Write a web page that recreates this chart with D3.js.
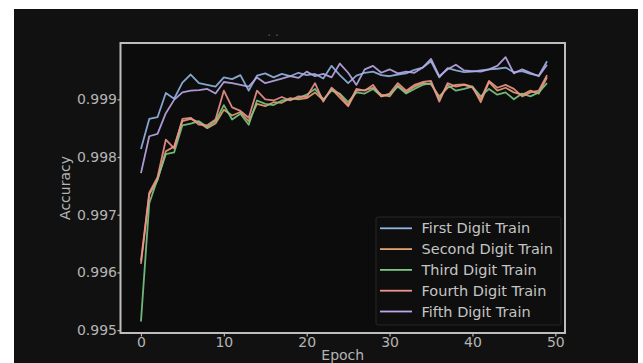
<!DOCTYPE html>
<html>
<head>
<meta charset="utf-8">
<script src="https://cdn.jsdelivr.net/npm/d3@7/dist/d3.min.js"></script>
<style>
  html, body { margin: 0; padding: 0; background: #ffffff; }
  svg { display: block; }
  text { font-family: "DejaVu Sans", sans-serif; }
</style>
</head>
<body>
<svg id="chart" width="643" height="363"></svg>
<script>
const epochs = d3.range(0, 50);
const seriesNames = ["First Digit Train", "Second Digit Train", "Third Digit Train", "Fourth Digit Train", "Fifth Digit Train"];
const seriesColors = ["#92b6e2", "#e6a26e", "#7cc884", "#ef948e", "#bba8e8"];

const firstDigit = [0.99814, 0.99866, 0.99869, 0.99911, 0.99901, 0.99929, 0.99943, 0.99928, 0.99925, 0.99922,
  0.99938, 0.99935, 0.99942, 0.99915, 0.99941, 0.99945, 0.99938, 0.99944, 0.99940, 0.99946,
  0.99942, 0.99944, 0.99936, 0.99958, 0.99942, 0.99928, 0.99941, 0.99946, 0.99948, 0.99942,
  0.99940, 0.99943, 0.99945, 0.99951, 0.99955, 0.99966, 0.99938, 0.99954, 0.99950, 0.99947,
  0.99948, 0.99950, 0.99952, 0.99953, 0.99955, 0.99947, 0.99949, 0.99944, 0.99941, 0.99966];
const secondDigit = [0.99615, 0.99735, 0.99760, 0.99810, 0.99818, 0.99862, 0.99866, 0.99860, 0.99850, 0.99858,
  0.99882, 0.99872, 0.99878, 0.99862, 0.99892, 0.99888, 0.99895, 0.99894, 0.99902, 0.99900,
  0.99902, 0.99912, 0.99898, 0.99918, 0.99903, 0.99888, 0.99915, 0.99916, 0.99920, 0.99908,
  0.99905, 0.99924, 0.99912, 0.99922, 0.99928, 0.99926, 0.99905, 0.99920, 0.99925, 0.99926,
  0.99922, 0.99895, 0.99930, 0.99915, 0.99920, 0.99912, 0.99908, 0.99915, 0.99910, 0.99938];
const thirdDigit = [0.99515, 0.99720, 0.99762, 0.99805, 0.99808, 0.99855, 0.99858, 0.99862, 0.99852, 0.99862,
  0.99890, 0.99865, 0.99875, 0.99856, 0.99898, 0.99892, 0.99890, 0.99898, 0.99900, 0.99902,
  0.99908, 0.99918, 0.99900, 0.99915, 0.99910, 0.99895, 0.99912, 0.99910, 0.99918, 0.99905,
  0.99908, 0.99922, 0.99910, 0.99918, 0.99925, 0.99928, 0.99900, 0.99925, 0.99915, 0.99918,
  0.99922, 0.99905, 0.99918, 0.99908, 0.99912, 0.99900, 0.99910, 0.99905, 0.99912, 0.99928];
const fourthDigit = [0.99620, 0.99738, 0.99765, 0.99830, 0.99815, 0.99866, 0.99868, 0.99856, 0.99855, 0.99865,
  0.99915, 0.99886, 0.99880, 0.99868, 0.99915, 0.99900, 0.99898, 0.99904, 0.99898, 0.99905,
  0.99904, 0.99928, 0.99896, 0.99920, 0.99908, 0.99890, 0.99918, 0.99915, 0.99925, 0.99905,
  0.99910, 0.99928, 0.99915, 0.99925, 0.99930, 0.99932, 0.99896, 0.99928, 0.99922, 0.99925,
  0.99920, 0.99900, 0.99932, 0.99920, 0.99925, 0.99918, 0.99905, 0.99912, 0.99915, 0.99942];
const fifthDigit = [0.99772, 0.99836, 0.99840, 0.99876, 0.99899, 0.99912, 0.99915, 0.99916, 0.99918, 0.99910,
  0.99930, 0.99928, 0.99925, 0.99922, 0.99938, 0.99928, 0.99932, 0.99936, 0.99940, 0.99937,
  0.99948, 0.99940, 0.99944, 0.99938, 0.99962, 0.99946, 0.99925, 0.99952, 0.99958, 0.99946,
  0.99952, 0.99945, 0.99948, 0.99946, 0.99955, 0.99970, 0.99940, 0.99952, 0.99960, 0.99950,
  0.99949, 0.99948, 0.99952, 0.99958, 0.99973, 0.99945, 0.99952, 0.99946, 0.99940, 0.99960];

const seriesValues = [firstDigit, secondDigit, thirdDigit, fourthDigit, fifthDigit];
const xTicks = [0, 10, 20, 30, 40, 50];
const yTicks = [0.995, 0.996, 0.997, 0.998, 0.999];
const xLabel = "Epoch";
const yLabel = "Accuracy";
const titleText = "· ·";

const svg = d3.select("#chart");
const W = 643, H = 363;
const plot = { left: 120.5, right: 565, top: 43, bottom: 333 };

// figure background (dark area)
svg.append("rect").attr("x", 14).attr("y", 9).attr("width", 624).attr("height", H - 9).attr("fill", "#111111");

const x = d3.scaleLinear().domain([-2.47, 51.17]).range([plot.left, plot.right]);
const y = d3.scaleLinear().domain([0.99495, 0.999976]).range([plot.bottom, plot.top]);

svg.append("rect").attr("x", plot.left).attr("y", plot.top)
  .attr("width", plot.right - plot.left).attr("height", plot.bottom - plot.top)
  .attr("fill", "#0c0c0c");

svg.append("text").attr("x", 273).attr("y", 40).attr("text-anchor", "middle")
  .attr("font-size", 12).attr("fill", "#5a5a5a").text(titleText);

svg.append("clipPath").attr("id", "clip").append("rect")
  .attr("x", plot.left).attr("y", plot.top)
  .attr("width", plot.right - plot.left).attr("height", plot.bottom - plot.top);

const line = d3.line().x((d, i) => x(epochs[i])).y(d => y(d));
const g = svg.append("g").attr("clip-path", "url(#clip)");
seriesValues.forEach((vals, k) => {
  g.append("path").datum(vals).attr("d", line)
    .attr("fill", "none").attr("stroke", seriesColors[k])
    .attr("stroke-width", 1.8).attr("stroke-linejoin", "round").attr("opacity", 0.9);
});

// axes
const axisColor = "#b8b8b8";
const xAxis = svg.append("g").attr("transform", `translate(0,${plot.bottom})`)
  .call(d3.axisBottom(x).tickValues(xTicks).tickFormat(d3.format("d")).tickSize(3.5).tickPadding(0.5));
const yAxis = svg.append("g").attr("transform", `translate(${plot.left},0)`)
  .call(d3.axisLeft(y).tickValues(yTicks).tickFormat(d3.format(".3f")).tickSize(3).tickPadding(0.5));
[xAxis, yAxis].forEach(a => {
  a.select(".domain").remove();
  a.selectAll("line").attr("stroke", axisColor).attr("stroke-width", 1.2);
  a.selectAll("text").attr("fill", "#b4b4b4").attr("font-size", 14).attr("font-family", "DejaVu Sans, sans-serif");
});

// frame
svg.append("rect").attr("x", plot.left).attr("y", plot.top)
  .attr("width", plot.right - plot.left).attr("height", plot.bottom - plot.top)
  .attr("fill", "none").attr("stroke", "#bdbdbd").attr("stroke-width", 2);

svg.append("text").attr("x", (plot.left + plot.right) / 2).attr("y", 360)
  .attr("text-anchor", "middle").attr("font-size", 14).attr("fill", "#b4b4b4").text(xLabel);
svg.append("text").attr("transform", `translate(70,${(plot.top + plot.bottom) / 2}) rotate(-90)`)
  .attr("text-anchor", "middle").attr("font-size", 14).attr("fill", "#b4b4b4").text(yLabel);

// legend
const leg = svg.append("g");
leg.append("rect").attr("x", 376).attr("y", 217).attr("width", 185).attr("height", 108)
  .attr("rx", 2).attr("fill", "#0e0e0e").attr("stroke", "#262626").attr("stroke-width", 1);
seriesNames.forEach((name, k) => {
  const cy = 228.3 + k * 20.8;
  leg.append("line").attr("x1", 380).attr("x2", 412).attr("y1", cy).attr("y2", cy)
    .attr("stroke", seriesColors[k]).attr("stroke-width", 1.8);
  leg.append("text").attr("x", 421.5).attr("y", cy + 5).attr("font-size", 14.5)
    .attr("fill", "#c4c4c4").text(name);
});
</script>
</body>
</html>
